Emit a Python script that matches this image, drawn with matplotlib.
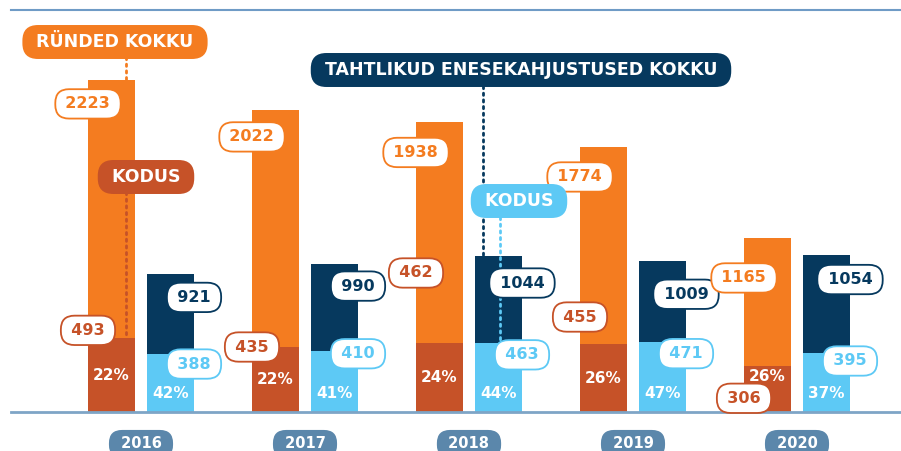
import numpy as np
import matplotlib
matplotlib.use('Agg')
import matplotlib.pyplot as plt

# data
years = ['2016', '2017', '2018', '2019', '2020']
rynded = [2223, 2022, 1938, 1774, 1165]
rynded_kodus = [493, 435, 462, 455, 306]
rynded_pct = ['22%', '22%', '24%', '26%', '26%']
enese = [921, 990, 1044, 1009, 1054]
enese_kodus = [388, 410, 463, 471, 395]
enese_pct = ['42%', '41%', '44%', '47%', '37%']

# colours
ORANGE = '#f47c20'
DKOR = '#c65228'
NAVY = '#06395e'
LBLUE = '#5dc9f5'
STEEL = '#5b87ab'
LINE = '#7ea5c6'

# label offsets in pixels below the segment top (negative = above)
tot_off_r = [24, 27, 30, 30, 40]
kod_off_r = [-8, 0, -70, -27, 32]
tot_off_e = [23, 22, 27, 33, 25]
kod_off_e = [10, 3, 12, 12, 8]

W, H = 901, 451
S = 0.1494      # pixels per unit
BASE = 412      # baseline, px from top
GAP = 164       # px between groups
X0 = 141        # px of first group centre

fig = plt.figure(figsize=(W / 100, H / 100), dpi=100)
ax = fig.add_axes([0, 0, 1, 1])
ax.axis('off')
ax.set_ylim(-(H - BASE) / S, BASE / S)
ax.set_xlim(-X0 / GAP, (W - X0) / GAP)


def px_x(p):
    return (p - X0) / GAP


def px_y(p):
    return (BASE - p) / S


x = np.arange(len(years))
w = 47 / GAP
xo = x - 0.18
xn = x + 0.18

ax.bar(xo, rynded, w, color=ORANGE, zorder=2)
ax.bar(xo, rynded_kodus, w, color=DKOR, zorder=2)
ax.bar(xn, enese, w, color=NAVY, zorder=2)
ax.bar(xn, enese_kodus, w, color=LBLUE, zorder=2)

# lines
ax.axhline(0, xmin=11 / W, xmax=1, color=LINE, lw=2, zorder=3)
ax.axhline(px_y(10), xmin=11 / W, xmax=1, color='#6f9bc6', lw=1.5, zorder=3)

TS = '\u2009'


def pill(xx, yy, s, color, dy, fs=11.5):
    ax.annotate(TS + s + TS, (xx, yy), xytext=(0, -dy), textcoords='offset pixels',
                ha='center', va='center', fontsize=fs, fontweight='bold', color=color,
                zorder=6,
                bbox=dict(boxstyle='round,pad=0.45,rounding_size=0.86', fc='white',
                          ec=color, lw=1.3))


for i in range(len(years)):
    pill(xo[i] - w / 2, rynded[i], str(rynded[i]), ORANGE, tot_off_r[i])
    pill(xo[i] - w / 2, rynded_kodus[i], str(rynded_kodus[i]), DKOR, kod_off_r[i])
    pill(xn[i] + w / 2, enese[i], str(enese[i]), NAVY, tot_off_e[i])
    pill(xn[i] + w / 2, enese_kodus[i], str(enese_kodus[i]), LBLUE, kod_off_e[i])

    # percentages
    if i == 4:
        yp = rynded_kodus[i] - 10 / S
    else:
        yp = rynded_kodus[i] / 2
    ax.text(xo[i], yp, rynded_pct[i], ha='center', va='center', color='white',
            fontsize=11, fontweight='bold', zorder=5)
    ax.text(xn[i], px_y(BASE - 18), enese_pct[i], ha='center', va='center',
            color='white', fontsize=11, fontweight='bold', zorder=5)

    # year pills
    ax.text(x[i], px_y(444), ' ' + years[i] + ' ', ha='center', va='center',
            color='white', fontsize=10.5, fontweight='bold', zorder=6,
            bbox=dict(boxstyle='round,pad=0.45,rounding_size=0.9', fc=STEEL, ec='none'))


def callout(cx, cy, s, color, lx, top, y_from):
    ax.text(px_x(cx), px_y(cy), ' ' + s + ' ', ha='center', va='center',
            color='white', fontsize=12.5, fontweight='bold', zorder=7,
            bbox=dict(boxstyle='round,pad=0.46,rounding_size=0.9', fc=color, ec='none'))
    ax.plot([lx, lx], [px_y(y_from), top], color=color, lw=2,
            linestyle=(0, (0.8, 1.6)), dash_capstyle='round', zorder=4)


callout(115, 42, 'RÜNDED KOKKU', ORANGE, xo[0] + 0.31 * w, rynded[0], 57)
callout(146, 177, 'KODUS', DKOR, xo[0] + 0.31 * w, rynded_kodus[0], 192)
callout(521, 70, 'TAHTLIKUD ENESEKAHJUSTUSED KOKKU', NAVY, xn[2] - 0.33 * w, enese[2], 86)
callout(519, 201, 'KODUS', LBLUE, xn[2] + 0.04 * w, enese_kodus[2], 217)

fig.savefig('out.png', dpi=100)
